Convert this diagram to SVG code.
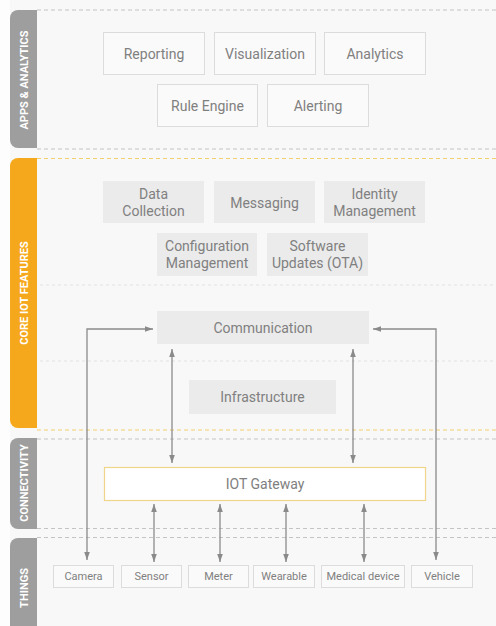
<svg xmlns="http://www.w3.org/2000/svg" width="496" height="626" viewBox="0 0 496 626">
<defs>
<style>
.t{font-family:Roboto,"Liberation Sans",sans-serif;fill:#808080;text-anchor:middle;dominant-baseline:central}
.b{font-size:14px}
.s{font-size:11px}
.bar{font-family:Roboto,"Liberation Sans",sans-serif;fill:#fff;font-size:11px;font-weight:bold;text-anchor:middle;dominant-baseline:central}
.ob{fill:#fafafa;stroke:#dcdcdc;stroke-width:1}
.fb{fill:#ebebeb}
.dg{stroke:#c4c4c4;stroke-width:1;stroke-dasharray:4 3;fill:none}
.dy{stroke:#f2cf6a;stroke-width:1;stroke-dasharray:4 3;fill:none}
.df{stroke:#e2e2e2;stroke-width:1;stroke-dasharray:3 3;fill:none}
.c{stroke:#8a8a8a;stroke-width:1.3;fill:none}
</style>
<marker id="ah" viewBox="0 0 10 10" refX="10" refY="5" markerWidth="8" markerHeight="8" markerUnits="userSpaceOnUse" orient="auto-start-reverse">
<path d="M0,1.5 L10,5 L0,8.5 z" fill="#8a8a8a"/>
</marker>
</defs>
<rect x="0" y="0" width="496" height="626" fill="#f8f8f8"/>
<rect x="0" y="0" width="10" height="626" fill="#fdfdfd"/>

<g id="lanes">
<path d="M10,18 a8,8 0 0 1 8,-8 h19 v138 h-19 a8,8 0 0 1 -8,-8 z" fill="#9e9e9e"/>
<text class="bar" transform="translate(24,80) rotate(-90)">APPS &amp; ANALYTICS</text>
<path d="M10,166 a8,8 0 0 1 8,-8 h19 v270 h-19 a8,8 0 0 1 -8,-8 z" fill="#f6a81c"/>
<text class="bar" transform="translate(24,293) rotate(-90)">CORE IOT FEATURES</text>
<path d="M10,446 a8,8 0 0 1 8,-8 h19 v91 h-19 a8,8 0 0 1 -8,-8 z" fill="#9e9e9e"/>
<text class="bar" transform="translate(24,483) rotate(-90)">CONNECTIVITY</text>
<path d="M10,546 a8,8 0 0 1 8,-8 h19 v100 h-27 z" fill="#9e9e9e"/>
<text class="bar" transform="translate(24,588) rotate(-90)">THINGS</text>
<line class="dg" x1="37" y1="10" x2="496" y2="10"/>
<line class="dg" x1="37" y1="149" x2="496" y2="149"/>
<line class="dy" x1="37" y1="158.5" x2="496" y2="158.5"/>
<line class="df" x1="40" y1="285" x2="496" y2="285"/>
<line class="df" x1="40" y1="361" x2="496" y2="361"/>
<line class="dy" x1="37" y1="430" x2="496" y2="430"/>
<line class="dg" x1="37" y1="439" x2="496" y2="439"/>
<line class="dg" x1="37" y1="528.5" x2="496" y2="528.5"/>
<line class="dg" x1="37" y1="537.5" x2="496" y2="537.5"/>
</g>

<g id="reporting"><rect class="ob" x="103.5" y="32.5" width="101" height="42"/><text class="t b" x="154" y="54">Reporting</text></g>
<g id="visualization"><rect class="ob" x="214.5" y="32.5" width="101" height="42"/><text class="t b" x="265" y="54">Visualization</text></g>
<g id="analytics"><rect class="ob" x="324.5" y="32.5" width="101" height="42"/><text class="t b" x="375" y="54">Analytics</text></g>
<g id="rule-engine"><rect class="ob" x="157.5" y="84.5" width="100" height="42"/><text class="t b" x="207.5" y="106">Rule Engine</text></g>
<g id="alerting"><rect class="ob" x="267.5" y="84.5" width="101" height="42"/><text class="t b" x="318" y="106">Alerting</text></g>

<g id="data-collection"><rect class="fb" x="103" y="181" width="101" height="42"/><text class="t b" x="153.5" y="194">Data</text><text class="t b" x="153.5" y="211">Collection</text></g>
<g id="messaging"><rect class="fb" x="214" y="181" width="101" height="42"/><text class="t b" x="264.5" y="203">Messaging</text></g>
<g id="identity-management"><rect class="fb" x="324" y="181" width="101" height="42"/><text class="t b" x="374.5" y="194">Identity</text><text class="t b" x="374.5" y="211">Management</text></g>
<g id="configuration-management"><rect class="fb" x="157" y="233" width="100" height="43"/><text class="t b" x="207" y="246">Configuration</text><text class="t b" x="207" y="263">Management</text></g>
<g id="software-updates"><rect class="fb" x="267" y="233" width="101" height="43"/><text class="t b" x="317.5" y="246">Software</text><text class="t b" x="317.5" y="263">Updates (OTA)</text></g>
<g id="communication"><rect class="fb" x="157" y="311" width="212" height="33"/><text class="t b" x="263" y="328">Communication</text></g>
<g id="infrastructure"><rect class="fb" x="189" y="380" width="147" height="34"/><text class="t b" x="262.5" y="397">Infrastructure</text></g>

<g id="iot-gateway"><rect x="104.5" y="467.5" width="321" height="33" fill="#fff" stroke="#f0d68a" stroke-width="1.2"/><text class="t b" x="265" y="484">IOT Gateway</text></g>

<g id="camera"><rect class="ob" x="53.5" y="565.5" width="60" height="22"/><text class="t s" x="83.5" y="576.5">Camera</text></g>
<g id="sensor"><rect class="ob" x="121.5" y="565.5" width="60" height="22"/><text class="t s" x="151.5" y="576.5">Sensor</text></g>
<g id="meter"><rect class="ob" x="188.5" y="565.5" width="60" height="22"/><text class="t s" x="218.5" y="576.5">Meter</text></g>
<g id="wearable"><rect class="ob" x="253.5" y="565.5" width="61" height="22"/><text class="t s" x="284" y="576.5">Wearable</text></g>
<g id="medical-device"><rect class="ob" x="321.5" y="565.5" width="83" height="22"/><text class="t s" x="363" y="576.5">Medical device</text></g>
<g id="vehicle"><rect class="ob" x="411.5" y="565.5" width="61" height="22"/><text class="t s" x="442" y="576.5">Vehicle</text></g>

<g id="connectors">
<path class="c" d="M153,329 H87 V560" marker-start="url(#ah)" marker-end="url(#ah)"/>
<path class="c" d="M373,329 H436 V560" marker-start="url(#ah)" marker-end="url(#ah)"/>
<line class="c" x1="172" y1="349" x2="172" y2="463" marker-start="url(#ah)" marker-end="url(#ah)"/>
<line class="c" x1="353" y1="349" x2="353" y2="463" marker-start="url(#ah)" marker-end="url(#ah)"/>
<line class="c" x1="154" y1="504" x2="154" y2="562" marker-start="url(#ah)" marker-end="url(#ah)"/>
<line class="c" x1="220" y1="504" x2="220" y2="562" marker-start="url(#ah)" marker-end="url(#ah)"/>
<line class="c" x1="286" y1="504" x2="286" y2="562" marker-start="url(#ah)" marker-end="url(#ah)"/>
<line class="c" x1="364" y1="504" x2="364" y2="562" marker-start="url(#ah)" marker-end="url(#ah)"/>
</g>
</svg>
